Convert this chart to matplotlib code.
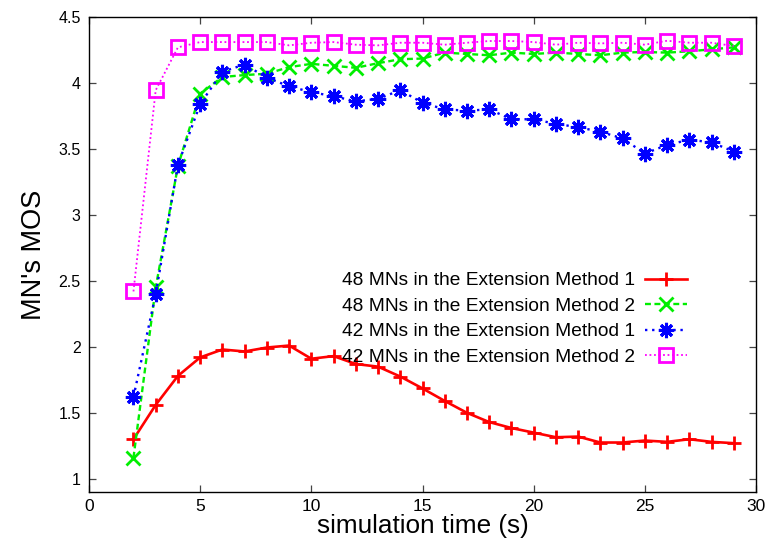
import matplotlib
matplotlib.use("Agg")
import matplotlib.pyplot as plt

# simulation time (s)
time_s = list(range(2, 30))

mos_48_m1 = [1.30, 1.56, 1.78, 1.92, 1.98, 1.965, 1.995, 2.01, 1.91, 1.93,
             1.87, 1.85, 1.775, 1.685, 1.59, 1.50, 1.43, 1.385, 1.35, 1.315,
             1.32, 1.275, 1.275, 1.29, 1.28, 1.30, 1.28, 1.27]
mos_48_m2 = [1.16, 2.45, 3.37, 3.92, 4.045, 4.06, 4.07, 4.12, 4.145, 4.13,
             4.115, 4.15, 4.18, 4.185, 4.23, 4.22, 4.21, 4.23, 4.22, 4.23,
             4.22, 4.21, 4.23, 4.235, 4.23, 4.24, 4.255, 4.27]
mos_42_m1 = [1.62, 2.40, 3.38, 3.84, 4.085, 4.14, 4.04, 3.975, 3.93, 3.90,
             3.86, 3.88, 3.945, 3.85, 3.80, 3.79, 3.80, 3.725, 3.725, 3.69,
             3.665, 3.63, 3.58, 3.465, 3.53, 3.57, 3.55, 3.48]
mos_42_m2 = [2.42, 3.945, 4.27, 4.31, 4.31, 4.31, 4.31, 4.285, 4.305, 4.31,
             4.29, 4.285, 4.305, 4.305, 4.29, 4.305, 4.318, 4.318, 4.31, 4.29,
             4.305, 4.30, 4.305, 4.29, 4.32, 4.305, 4.305, 4.28]

series_labels = ["48 MNs in the Extension Method 1",
                 "48 MNs in the Extension Method 2",
                 "42 MNs in the Extension Method 1",
                 "42 MNs in the Extension Method 2"]

x_ticks = [0, 5, 10, 15, 20, 25, 30]
y_ticks = [1, 1.5, 2, 2.5, 3, 3.5, 4, 4.5]
y_tick_labels = ["1", "1.5", "2", "2.5", "3", "3.5", "4", "4.5"]

SANS = ["Liberation Sans", "DejaVu Sans"]
plt.rcParams["font.family"] = SANS

fig = plt.figure(figsize=(7.72, 5.44), dpi=100)
ax = fig.add_axes([89 / 772, 52 / 544, 667 / 772, 475 / 544])

ax.plot(time_s, mos_48_m1, color="#ff0000", lw=1.9, ls="-",
        marker="+", ms=10.5, mew=2.0, label=series_labels[0])
ax.plot(time_s, mos_48_m2, color="#00ee00", lw=1.7, ls=(0, (2.5, 1.5)),
        marker="x", ms=10, mew=2.0, label=series_labels[1])
ax.plot(time_s, mos_42_m1, color="#0000ff", lw=1.7, ls=(0, (1, 2)),
        marker=(8, 2, 0), ms=11, mew=2.2, label=series_labels[2])
ax.plot(time_s, mos_42_m2, color="#ff00ff", lw=1.3, ls=(0, (1, 1.5)),
        marker="s", ms=10.5, mew=2.0, mfc="none", label=series_labels[3])

ax.set_xlim(0, 30)
ax.set_ylim(0.9, 4.5)
ax.set_xticks(x_ticks)
ax.set_yticks(y_ticks)
ax.set_yticklabels(y_tick_labels)

ax.tick_params(direction="in", top=True, right=True, length=5, width=0.9,
               color="#444444")
ax.tick_params(axis="x", pad=5, labelsize=12.5)
ax.tick_params(axis="y", pad=6, labelsize=11.5)

for sp in ax.spines.values():
    sp.set_linewidth(1.0)
    sp.set_color("black")

ax.set_xlabel("simulation time (s)", fontsize=18.8, labelpad=0)
ax.set_ylabel("MN's MOS", fontsize=19.5, labelpad=8)

leg = ax.legend(loc="upper right", bbox_to_anchor=(687 / 772, 1 - 272 / 544),
                bbox_transform=fig.transFigure, frameon=False,
                markerfirst=False, fontsize=13.8, handlelength=2.2,
                handletextpad=0.5, labelspacing=0.42, borderpad=0,
                borderaxespad=0)

fig.savefig("out.png", dpi=100)
